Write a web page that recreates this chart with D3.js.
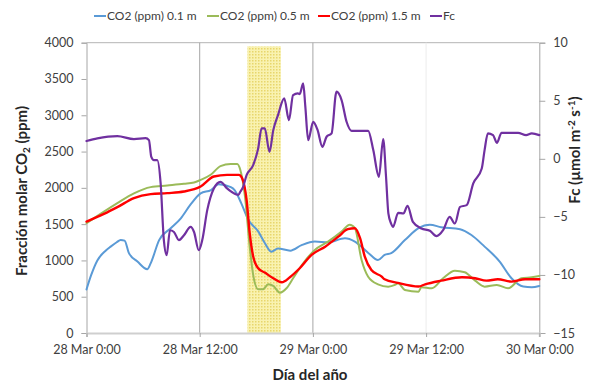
<!DOCTYPE html>
<html>
<head>
<meta charset="utf-8">
<script src="https://cdn.jsdelivr.net/npm/d3@7"></script>
<style>
  html, body { margin: 0; padding: 0; background: #fff; }
  svg { display: block; font-family: Lato, "Open Sans", sans-serif; }
</style>
</head>
<body>
<svg id="chart" width="594" height="386"></svg>
<script>
// Hours since 28 Mar 0:00 and readings for each series
const co2_01_hours = [0, 0.5, 1.15, 2, 2.56, 3.2, 3.62, 4.04, 4.5, 5.4, 6.44, 6.8, 7.7, 8.9, 10, 11, 12.1, 13.2, 14.0, 15.3, 15.7, 16.4, 17.15, 18.2, 18.9, 19.6, 20.3, 21.6, 22.8, 24.2, 25.6, 27.4, 28.45, 29.9, 30.9, 31.6, 32.3, 33.75, 35.2, 36.4, 37.6, 39.6, 40.8, 42.2, 43.8, 45.05, 46.3, 47.2, 48];
const co2_01_ppm = [600, 800, 1000, 1130, 1190, 1250, 1283, 1273, 1100, 985, 880, 960, 1280, 1440, 1580, 1765, 1925, 1970, 2050, 2010, 1970, 1790, 1560, 1400, 1240, 1120, 1165, 1135, 1210, 1260, 1250, 1305, 1260, 1100, 1005, 1076, 1100, 1280, 1444, 1490, 1458, 1430, 1350, 1190, 985, 755, 640, 630, 648];

const co2_05_hours = [0, 1.85, 3.27, 5.03, 6.8, 8.56, 10.33, 11.4, 12.1, 13.16, 14.2, 15.28, 15.98, 16.3, 16.8, 17.3, 17.7, 18.2, 18.7, 19.26, 19.8, 20.5, 21.2, 21.9, 22.97, 24.2, 25.6, 27.04, 27.9, 28.45, 29.16, 29.86, 30.9, 31.98, 32.7, 33.04, 33.75, 35.2, 35.5, 36.6, 37.8, 39.05, 40.1, 41.2, 42.2, 43.5, 44.7, 46.1, 47.2, 48];
const co2_05_ppm = [1513, 1673, 1790, 1925, 2010, 2032, 2055, 2073, 2110, 2180, 2300, 2330, 2330, 2250, 1880, 1190, 776, 602, 602, 671, 648, 556, 616, 754, 961, 1145, 1259, 1397, 1490, 1444, 1007, 776, 671, 639, 662, 685, 593, 570, 630, 616, 754, 859, 837, 721, 639, 662, 616, 754, 768, 786];

const co2_15_hours = [0, 1.85, 3.27, 5.03, 6.8, 8.56, 10.33, 12.1, 13.5, 14.9, 16.16, 16.5, 16.97, 17.3, 17.67, 18.2, 18.9, 19.8, 20.7, 21.56, 22.6, 23.86, 25.3, 26.7, 27.7, 28.45, 29.0, 29.5, 30.2, 31.3, 31.6, 33.0, 35.2, 35.9, 37.6, 39.8, 41.2, 42.4, 43.6, 45.05, 46.5, 48];
const co2_15_ppm = [1535, 1641, 1734, 1858, 1913, 1927, 1949, 2018, 2156, 2179, 2179, 2133, 1834, 1375, 1053, 892, 832, 754, 699, 768, 892, 1076, 1190, 1328, 1430, 1444, 1306, 1053, 869, 776, 740, 690, 640, 671, 721, 768, 754, 721, 740, 708, 740, 740];

const fc_hours = [0, 1.15, 3.27, 5.03, 6.27, 6.62, 6.87, 7.15, 7.5, 7.86, 8.2, 8.5, 8.85, 9.27, 9.8, 10.33, 11.04, 11.4, 11.9, 12.27, 12.8, 13.5, 14.2, 14.9, 15.8, 16.1, 16.3, 16.6, 16.97, 17.67, 18.2, 18.56, 18.9, 19.4, 19.8, 20.3, 20.96, 21.46, 21.9, 22.4, 22.6, 22.97, 23.2, 23.5, 24.03, 24.5, 25, 25.45, 25.98, 26.5, 27.04, 27.57, 28.1, 29.86, 30.4, 31, 31.45, 31.75, 32.0, 32.3, 32.5, 33.04, 33.6, 34.03, 34.6, 35.5, 36.4, 37.1, 37.8, 38.5, 39.05, 39.6, 40.3, 41, 41.9, 42.2, 42.55, 43.1, 43.5, 44, 45.75, 46.6, 47.2, 48];
const fc_values = [1.53, 1.76, 1.96, 1.70, 1.78, 1.61, 0.17, -0.11, -0.11, -2.12, -7.0, -8.3, -6.15, -6.3, -7.0, -6.58, -5.86, -6.3, -7.87, -7.0, -4.42, -2.55, -1.98, -2.55, -3.04, -3.1, -2.84, -2.41, -1.41, -0.54, 0.9, 2.62, 2.62, 0.6, 2.47, 3.77, 5.2, 3.34, 5.49, 5.64, 5.58, 6.5, 4.48, 1.61, 3.19, 2.47, 1.03, 1.9, 2.19, 5.78, 5.06, 3.19, 2.41, 2.41, 0.75, -1.55, 1.7, -1.5, -4.7, -5.6, -5.86, -4.65, -4.71, -4.05, -5.43, -6.0, -6.2, -6.66, -6.15, -5.0, -5.57, -4.14, -3.99, -2.12, -0.83, 0.75, 2.19, 2.04, 1.38, 2.24, 2.24, 2.04, 2.19, 2.04];

// Highlighted period (hours) and the ppm level of its top edge
const bandHours = [17.05, 20.6];
const bandTopPpm = 3950;

const xTickHours = [0, 12, 24, 36, 48];
const xTickLabels = ["28 Mar 0:00", "28 Mar 12:00", "29 Mar 0:00", "29 Mar 12:00", "30 Mar 0:00"];
const leftTicks = [0, 500, 1000, 1500, 2000, 2500, 3000, 3500, 4000];
const rightTicks = [-15, -10, -5, 0, 5, 10];

const seriesNames = ["CO2 (ppm) 0.1 m", "CO2 (ppm) 0.5 m", "CO2 (ppm) 1.5 m", "Fc"];
const seriesColors = ["#5a9ad6", "#9bbb59", "#ff0000", "#7030a0"];

const svg = d3.select("#chart");
const plot = { left: 86.5, right: 539.3, top: 42.7, bottom: 333 };

const x = d3.scaleLinear().domain([0, 48]).range([plot.left, plot.right]);
const yL = d3.scaleLinear().domain([0, 4000]).range([plot.bottom, plot.top]);
const yR = d3.scaleLinear().domain([-15, 10]).range([plot.bottom, plot.top]);

// dotted fill for the highlighted period
const defs = svg.append("defs");
const pat = defs.append("pattern").attr("id", "dots")
  .attr("patternUnits", "userSpaceOnUse").attr("width", 3).attr("height", 3);
pat.append("rect").attr("width", 3).attr("height", 3).attr("fill", "#f9f2b0");
pat.append("rect").attr("width", 1.5).attr("height", 1.5).attr("fill", "#e8d66c");

// plot frame and vertical gridlines
const frame = svg.append("g");
frame.append("line").attr("x1", plot.left).attr("x2", plot.right)
  .attr("y1", plot.top).attr("y2", plot.top).attr("stroke", "#b4b4b4").attr("stroke-width", 1);
xTickHours.slice(1, -1).forEach(h => {
  frame.append("line").attr("x1", x(h)).attr("x2", x(h))
    .attr("y1", plot.top).attr("y2", plot.bottom)
    .attr("stroke", h === 36 ? "#ececec" : "#a6a6a6").attr("stroke-width", 1);
});

svg.append("rect")
  .attr("x", x(bandHours[0])).attr("y", yL(bandTopPpm))
  .attr("width", x(bandHours[1]) - x(bandHours[0]))
  .attr("height", yL(0) - yL(bandTopPpm))
  .attr("fill", "url(#dots)");

// axes
const tickColor = "#a6a6a6";
const gL = svg.append("g").attr("transform", `translate(${plot.left},0)`)
  .call(d3.axisLeft(yL).tickValues(leftTicks).tickFormat(d3.format("d")).tickSize(5).tickPadding(8));
const gR = svg.append("g").attr("transform", `translate(${plot.right},0)`)
  .call(d3.axisRight(yR).tickValues(rightTicks).tickFormat(d3.format("d")).tickSize(6).tickPadding(8));
const gB = svg.append("g").attr("transform", `translate(0,${plot.bottom})`)
  .call(d3.axisBottom(x).tickValues(xTickHours).tickFormat((d, i) => xTickLabels[i]).tickSize(4).tickPadding(8));

[gL, gR, gB].forEach(g => {
  g.select(".domain").attr("stroke", tickColor);
  g.selectAll(".tick line").attr("stroke", tickColor);
  g.selectAll(".tick text").attr("fill", "#404040").style("font-size", "12.5px").style("font-family", "Lato, sans-serif");
});
gB.select(".domain").attr("stroke", "#cfcfcf").attr("stroke-width", 2);

// series
const lineL = d3.line().x(d => x(d[0])).y(d => yL(d[1])).curve(d3.curveMonotoneX);
const lineR = d3.line().x(d => x(d[0])).y(d => yR(d[1])).curve(d3.curveMonotoneX);
const zip = (a, b) => a.map((v, i) => [v, b[i]]);

const series = [
  { pts: zip(co2_01_hours, co2_01_ppm), gen: lineL, w: 2 },
  { pts: zip(co2_05_hours, co2_05_ppm), gen: lineL, w: 2 },
  { pts: zip(co2_15_hours, co2_15_ppm), gen: lineL, w: 2.4 },
  { pts: zip(fc_hours, fc_values), gen: lineR, w: 2.2 }
];
series.forEach((s, i) => {
  svg.append("path").datum(s.pts).attr("d", s.gen)
    .attr("fill", "none").attr("stroke", seriesColors[i])
    .attr("stroke-width", s.w).attr("stroke-linejoin", "round").attr("stroke-linecap", "round");
});

// legend
const legendX = [94, 207, 318, 430];
const legend = svg.append("g").style("font-size", "12px").style("font-family", "Lato, sans-serif");
seriesNames.forEach((name, i) => {
  legend.append("line").attr("x1", legendX[i]).attr("x2", legendX[i] + 12)
    .attr("y1", 16).attr("y2", 16).attr("stroke", seriesColors[i]).attr("stroke-width", 2);
  legend.append("text").attr("x", legendX[i] + 13).attr("y", 20).attr("fill", "#404040").text(name);
});

// axis titles
svg.append("text").attr("x", 310).attr("y", 380).attr("text-anchor", "middle")
  .style("font-size", "15px").style("font-weight", "bold").attr("fill", "#262626").text("Día del año");

const tL = svg.append("text").attr("transform", "translate(27,191) rotate(-90)").attr("text-anchor", "middle")
  .style("font-size", "15px").style("font-weight", "bold").attr("fill", "#262626");
tL.append("tspan").text("Fracción molar CO");
tL.append("tspan").attr("dy", 3).style("font-size", "10px").text("2");
tL.append("tspan").attr("dy", -3).text(" (ppm)");

const tR = svg.append("text").attr("transform", "translate(580,150) rotate(-90)").attr("text-anchor", "middle")
  .style("font-size", "15px").style("font-weight", "bold").attr("fill", "#262626");
tR.append("tspan").text("Fc (µmol m");
tR.append("tspan").attr("dy", -5).style("font-size", "10px").text("-2");
tR.append("tspan").attr("dy", 5).text(" s");
tR.append("tspan").attr("dy", -5).style("font-size", "10px").text("-1");
tR.append("tspan").attr("dy", 5).text(")");
</script>
</body>
</html>
